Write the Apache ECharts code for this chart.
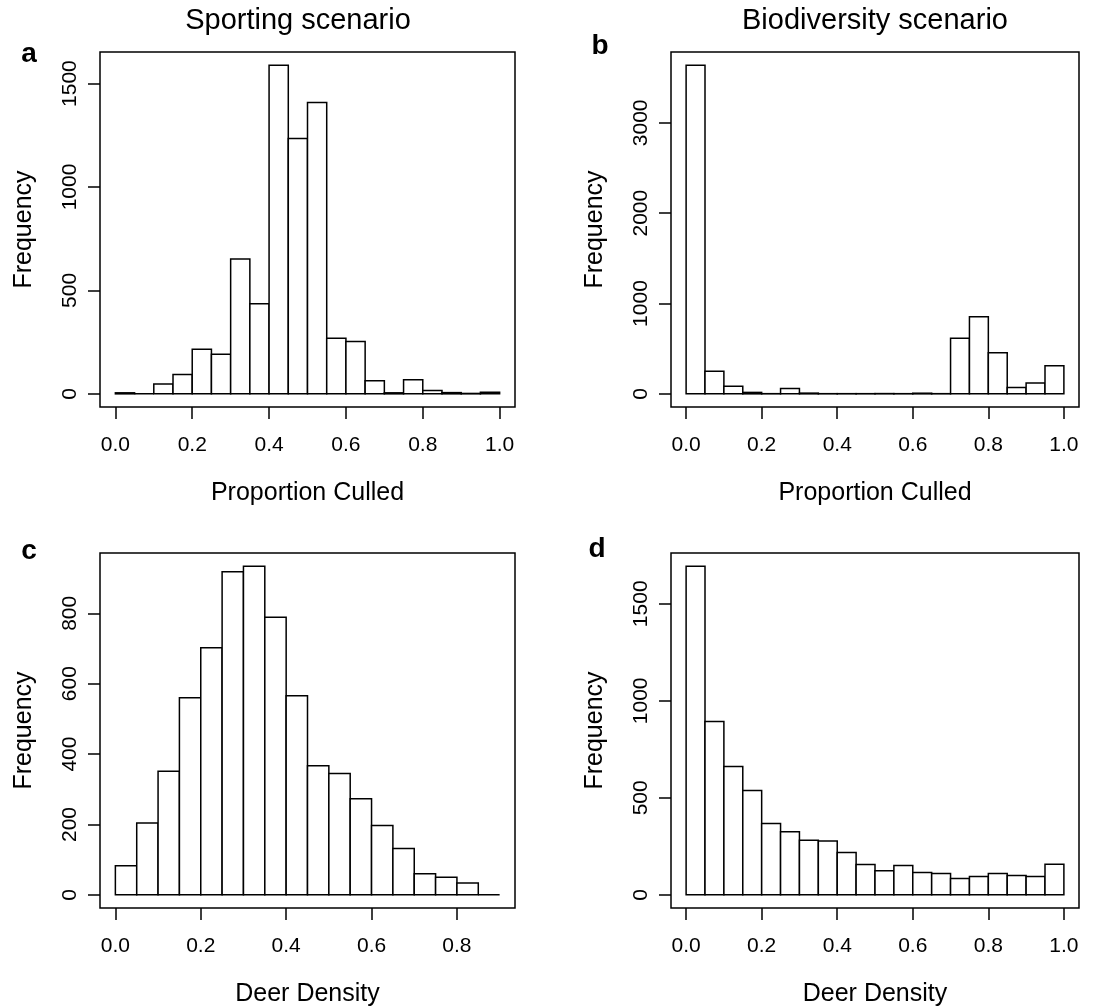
<!DOCTYPE html>
<html>
<head>
<meta charset="utf-8">
<script src="https://cdn.jsdelivr.net/npm/echarts@6/dist/echarts.min.js"></script>
<style>
  html, body { margin: 0; padding: 0; background: #fff; }
  #main { width: 1107px; height: 1007px; }
</style>
</head>
<body>
<div id="main"></div>
<script>
const FONT = "'Liberation Sans', Arial, sans-serif";

// bin edges (step 0.05)
const edgesFull = [0, 0.05, 0.1, 0.15, 0.2, 0.25, 0.3, 0.35, 0.4, 0.45, 0.5, 0.55, 0.6, 0.65, 0.7, 0.75, 0.8, 0.85, 0.9, 0.95, 1.0];
const edgesDensitySport = [0, 0.05, 0.1, 0.15, 0.2, 0.25, 0.3, 0.35, 0.4, 0.45, 0.5, 0.55, 0.6, 0.65, 0.7, 0.75, 0.8, 0.85, 0.9];

// counts per bin
const sportCulled = [5, 0, 48, 94, 216, 192, 652, 435, 1589, 1235, 1408, 269, 253, 63, 5, 68, 16, 6, 2, 8];
const bioCulled = [3639, 250, 83, 16, 2, 58, 8, 2, 2, 2, 3, 2, 7, 2, 615, 853, 456, 70, 120, 310];
const sportDensity = [83, 204, 351, 560, 702, 918, 934, 789, 566, 367, 345, 273, 197, 132, 60, 50, 34, 0];
const bioDensity = [1694, 893, 662, 538, 368, 325, 282, 277, 218, 157, 124, 151, 115, 110, 84, 95, 110, 100, 95, 158];

// tick labels
const xTicksFull = [0, 0.2, 0.4, 0.6, 0.8, 1.0];
const xTicksDensity = [0, 0.2, 0.4, 0.6, 0.8];
const yTicksA = [0, 500, 1000, 1500];
const yTicksB = [0, 1000, 2000, 3000];
const yTicksC = [0, 200, 400, 600, 800];
const yTicksD = [0, 500, 1000, 1500];

const titles = ["Sporting scenario", "Biodiversity scenario"];
const panelLetters = ["a", "b", "c", "d"];

const panels = [
  { grid: { left: 100, top: 52, width: 415, height: 355 }, edges: edgesFull, counts: sportCulled, xTicks: xTicksFull, yTicks: yTicksA, xName: "Proportion Culled" },
  { grid: { left: 671, top: 52, width: 408, height: 355 }, edges: edgesFull, counts: bioCulled, xTicks: xTicksFull, yTicks: yTicksB, xName: "Proportion Culled" },
  { grid: { left: 100, top: 553, width: 415, height: 355 }, edges: edgesDensitySport, counts: sportDensity, xTicks: xTicksDensity, yTicks: yTicksC, xName: "Deer Density" },
  { grid: { left: 671, top: 553, width: 408, height: 355 }, edges: edgesFull, counts: bioDensity, xTicks: xTicksFull, yTicks: yTicksD, xName: "Deer Density" },
];

// R-style 4% padding on both axes
function padRange(lo, hi) {
  const d = (hi - lo) * 0.04;
  return [lo - d, hi + d];
}

function renderHist(params, api) {
  const topLeft = api.coord([api.value(0), api.value(2)]);
  const botRight = api.coord([api.value(1), 0]);
  return {
    type: "rect",
    shape: { x: topLeft[0], y: topLeft[1], width: botRight[0] - topLeft[0], height: botRight[1] - topLeft[1] },
    style: { fill: "#fff", stroke: "#000", lineWidth: 1.5 },
  };
}

const grid = [], xAxis = [], yAxis = [], series = [];

panels.forEach((p, i) => {
  const xr = padRange(p.edges[0], p.edges[p.edges.length - 1]);
  const yr = padRange(0, Math.max(...p.counts));

  grid.push(Object.assign({ show: true, borderColor: "#000", borderWidth: 1.5, backgroundColor: "#fff", outerBoundsMode: "none" }, p.grid));

  xAxis.push({
    type: "value",
    gridIndex: i,
    position: "bottom",
    min: xr[0],
    max: xr[1],
    name: p.xName,
    nameLocation: "middle",
    nameGap: 74,
    nameTextStyle: { fontFamily: FONT, fontSize: 25, color: "#000" },
    axisLine: { show: false, onZero: false },
    splitLine: { show: false },
    axisTick: { show: true, inside: false, length: 12, customValues: p.xTicks, lineStyle: { color: "#000", width: 1.5 } },
    axisLabel: {
      customValues: p.xTicks,
      margin: 28,
      fontFamily: FONT,
      fontSize: 21,
      color: "#000",
      formatter: (v) => Number(v).toFixed(1),
    },
  });

  yAxis.push({
    type: "value",
    gridIndex: i,
    position: "left",
    min: yr[0],
    max: yr[1],
    name: "Frequency",
    nameLocation: "middle",
    nameGap: 63,
    nameTextStyle: { fontFamily: FONT, fontSize: 25, color: "#000" },
    axisLine: { show: false, onZero: false },
    splitLine: { show: false },
    axisTick: { show: true, inside: false, length: 12, customValues: p.yTicks, lineStyle: { color: "#000", width: 1.5 } },
    axisLabel: {
      customValues: p.yTicks,
      rotate: 90,
      margin: 19,
      fontFamily: FONT,
      fontSize: 21,
      color: "#000",
      formatter: (v) => String(Math.round(v)),
    },
  });

  const data = p.counts.map((c, k) => [p.edges[k], p.edges[k + 1], c]);
  series.push({
    type: "custom",
    xAxisIndex: i,
    yAxisIndex: i,
    renderItem: renderHist,
    encode: { x: [0, 1], y: 2 },
    data: data,
    silent: true,
  });
});

const letterPos = [[29, 54], [600, 46], [29, 551], [597, 549]];

const graphic = [
  { type: "text", x: 298, y: 21, style: { text: titles[0], font: "29px " + FONT, fill: "#000", align: "center", verticalAlign: "middle" } },
  { type: "text", x: 875, y: 21, style: { text: titles[1], font: "29px " + FONT, fill: "#000", align: "center", verticalAlign: "middle" } },
].concat(panelLetters.map((l, i) => ({
  type: "text",
  x: letterPos[i][0],
  y: letterPos[i][1],
  style: { text: l, font: "bold 28px " + FONT, fill: "#000", align: "center", verticalAlign: "middle" },
})));

const chart = echarts.init(document.getElementById("main"), null, { renderer: "canvas" });
chart.setOption({
  backgroundColor: "#fff",
  animation: false,
  grid: grid,
  xAxis: xAxis,
  yAxis: yAxis,
  series: series,
  graphic: graphic,
});
</script>
</body>
</html>
